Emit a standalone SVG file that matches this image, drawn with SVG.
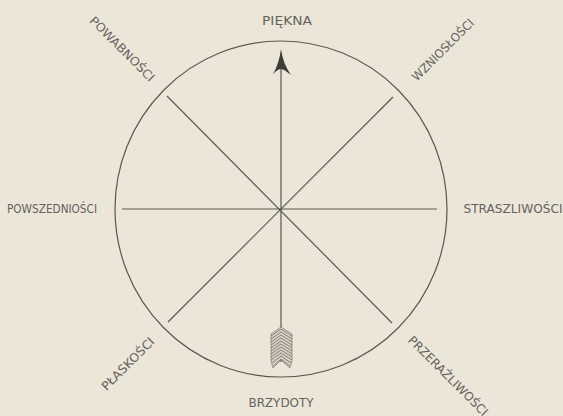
<svg xmlns="http://www.w3.org/2000/svg" width="563" height="416" viewBox="0 0 563 416">
<style>
.lbl{font-family:"DejaVu Sans Condensed","DejaVu Sans","Liberation Sans",sans-serif;font-size:12px;fill:#64625e;text-anchor:middle}
.ln{stroke:#5a5854;stroke-width:1.2;fill:none}
.fl{stroke:#5e5c58;stroke-width:0.7;fill:none}
</style>
<rect width="563" height="416" fill="#ece6d8"/>
<g id="circle"><ellipse cx="281" cy="209" rx="166" ry="168" class="ln"/></g>
<g id="connectors">
<line x1="122" y1="209" x2="437" y2="209" class="ln"/>
<line x1="167" y1="96" x2="392" y2="323" class="ln"/>
<line x1="393" y1="97" x2="168" y2="322" class="ln"/>
<line x1="281" y1="66" x2="281" y2="362" class="ln"/>
<path d="M281,49 Q279,64 273,74 Q278,69 281,69 Q284,69 291,75 Q283,64 281,49 Z" fill="#3e3c39"/>
<g id="fletching">
<path d="M281,327 L271,334 L271,361 L273,368 L281,360 L290,368 L292,361 L292,334 Z" fill="#d8d2c5" stroke="#6a6864" stroke-width="0.6"/>
<path class="fl" d="M281,329 L271,336 M281,332 L271,339 M281,335 L271,342 M281,338 L271,345 M281,341 L271,348 M281,344 L271,351 M281,347 L271,354 M281,350 L271,357 M281,353 L271,360 M281,356 L272,363 M281,359 L273,366 M281,329 L292,336 M281,332 L292,339 M281,335 L292,342 M281,338 L292,345 M281,341 L292,348 M281,344 L292,351 M281,347 L292,354 M281,350 L292,357 M281,353 L292,360 M281,356 L291,363 M281,359 L290,366"/>
</g>
</g>
<g id="piekna"><text class="lbl" x="287" y="25" font-size="13" textLength="50" lengthAdjust="spacingAndGlyphs">PIĘKNA</text></g>
<g id="brzydoty"><text class="lbl" x="281" y="407" font-size="13" textLength="65" lengthAdjust="spacingAndGlyphs">BRZYDOTY</text></g>
<g id="powszednosci"><text class="lbl" x="52" y="213" textLength="90" lengthAdjust="spacingAndGlyphs">POWSZEDNIOŚCI</text></g>
<g id="straszliwosci"><text class="lbl" x="513" y="213" textLength="99" lengthAdjust="spacingAndGlyphs">STRASZLIWOŚCI</text></g>
<g id="powabnosci"><text class="lbl" transform="translate(122,49) rotate(45)" x="0" y="4" textLength="86" lengthAdjust="spacingAndGlyphs">POWABNOŚCI</text></g>
<g id="wznioslosci"><text class="lbl" transform="translate(443,50) rotate(-45)" x="0" y="4" textLength="82" lengthAdjust="spacingAndGlyphs">WZNIOSŁOŚCI</text></g>
<g id="plaskosci"><text class="lbl" transform="translate(128,364) rotate(-45)" x="0" y="4" textLength="69" lengthAdjust="spacingAndGlyphs">PŁASKOŚCI</text></g>
<g id="przerazliwosci"><text class="lbl" transform="translate(448,376) rotate(45)" x="0" y="4" textLength="107" lengthAdjust="spacingAndGlyphs">PRZERAŹLIWOŚCI</text></g>
</svg>
